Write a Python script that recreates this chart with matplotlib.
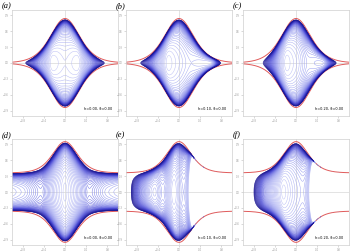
import numpy as np
import matplotlib
matplotlib.use('Agg')
import matplotlib.pyplot as plt
from matplotlib.colors import LinearSegmentedColormap

# panel data
panel_labels = ['(a)', '(b)', '(c)', '(d)', '(e)', '(f)']
h_values = [0.00, 0.10, 0.20, 0.00, 0.10, 0.20]
delta_values = [0.00, 0.00, 0.00, 0.00, 0.00, 0.00]

# boundary (red) curve: peak height, plateau height, width factor
peak_top, plateau_top, k_top = 0.84, 0.0, 2.7
peak_bot, plateau_bot, k_bot = 0.59, 0.36, 3.2

# log-potential knots per panel (x positions / values)
wx_a = [-1.0, -0.75, -0.5, -0.27, 0.0, 0.27, 0.5, 0.75, 1.0]
wv_a = [6.0, 3.0, 1.2, 0.0, 0.2, 0.0, 1.2, 3.0, 6.0]
wx_b = [-1.0, -0.73, -0.45, -0.23, 0.0, 0.2, 0.4, 0.55, 0.65, 0.78, 1.0]
wv_b = [6.0, 3.0, 1.0, 0.0, 0.25, 0.5, 0.45, 0.42, 0.45, 3.0, 6.0]
wx_c = [-1.0, -0.62, -0.45, -0.32, -0.2, 0.05, 0.22, 0.38, 0.55, 0.76, 1.0]
wv_c = [6.0, 3.0, 1.6, 0.5, 0.0, 0.3, 0.7, 0.62, 0.6, 3.0, 6.0]
wx_d = [-1.0, -0.75, -0.45, -0.2, 0.0, 0.2, 0.45, 0.75, 1.0]
wv_d = [0.5, 0.7, 1.3, 0.5, 0.0, 0.5, 1.3, 0.7, 0.5]
wx_e = [-1.0, -0.93, -0.75, -0.58, -0.45, -0.3, -0.1, 0.1, 0.21, 0.34, 1.0]
wv_e = [8.0, 3.0, 1.5, 0.6, 0.3, 0.85, 0.0, 0.7, 0.0, -8.0, -8.0]
wx_f = [-1.0, -0.81, -0.62, -0.45, -0.25, 0.0, 0.15, 0.28, 0.42, 1.0]
wv_f = [8.0, 3.0, 1.4, 0.7, 0.0, 0.45, 0.65, 0.0, -8.0, -8.0]

knots = [(wx_a, wv_a), (wx_b, wv_b), (wx_c, wv_c),
         (wx_d, wv_d), (wx_e, wv_e), (wx_f, wv_f)]

x_ticks = [-0.8, -0.4, 0.0, 0.4, 0.8]
y_ticks = [-0.9, -0.6, -0.3, 0.0, 0.3, 0.6, 0.9]

cmap = LinearSegmentedColormap.from_list('blu', ['#c9ccf6', '#8c92ee', '#3c3cd2', '#1c1690'])

x = np.linspace(-1, 1, 601)
y = np.linspace(-1, 1, 601)
X, Y = np.meshgrid(x, y)


def boundary(xx, row):
  if row == 0:
    return peak_top / np.cosh(k_top * xx)**2 + plateau_top
  return peak_bot / np.cosh(k_bot * xx)**2 + plateau_bot


def smooth_pot(wx, wv):
  w = np.interp(x, wx, wv)
  n = 11
  ker = np.exp(-0.5 * (np.arange(-3 * n, 3 * n + 1) / n)**2)
  ker /= ker.sum()
  wp = np.pad(w, 3 * n, mode='edge')
  return np.convolve(wp, ker, mode='valid')


fig = plt.figure(figsize=(3.5, 2.52), dpi=100)
W_px, H_px = 350, 252
lefts = [12, 126, 243]
tops = [10, 139]
pw, ph = 106, 106
levels = np.linspace(0.03, 3.0, 40)

for i in range(6):
  row, col = divmod(i, 3)
  l, t = lefts[col], tops[row]
  ax = fig.add_axes([l / W_px, 1 - (t + ph) / H_px, pw / W_px, ph / H_px])

  s = boundary(x, row)
  S = boundary(X, row)
  L = smooth_pot(*knots[i])
  U = Y / S
  inside = np.abs(U) < 1.0
  G = np.full(X.shape, np.nan)
  G[inside] = (L[None, :] + 0 * X)[inside] - np.log(1 - U[inside]**2)

  cols = [cmap((lv / levels[-1])**0.9) for lv in levels]

  ax.axhline(0, color='#d8d8d8', lw=0.5, zorder=0)
  ax.axvline(0, color='#d8d8d8', lw=0.5, zorder=0)
  ax.plot(x, s, color='#e05a5a', lw=0.7, zorder=1)
  ax.plot(x, -s, color='#e05a5a', lw=0.7, zorder=1)
  ax.contour(X, Y, G, levels=levels, colors=cols, linewidths=0.35, zorder=2)

  ax.set_xlim(-1, 1)
  ax.set_ylim(-1, 1)
  ax.set_xticks(x_ticks)
  ax.set_yticks(y_ticks)
  ax.tick_params(length=1.5, width=0.4, color='#bbbbbb', labelsize=1.8,
                 labelcolor='#999999', pad=1)
  for sp in ax.spines.values():
    sp.set_color('#cfcfcf')
    sp.set_linewidth(0.5)

  ax.text(0.95, 0.065, f'h={h_values[i]:.2f}, δ={delta_values[i]:.2f}',
          transform=ax.transAxes, ha='right', va='center', fontsize=2.5)

  fig.text((l - 10) / W_px, 1 - (t - 4) / H_px, panel_labels[i],
           fontsize=6, family='Liberation Serif', style='italic',
           ha='left', va='center')

fig.savefig('out.png', dpi=100)
